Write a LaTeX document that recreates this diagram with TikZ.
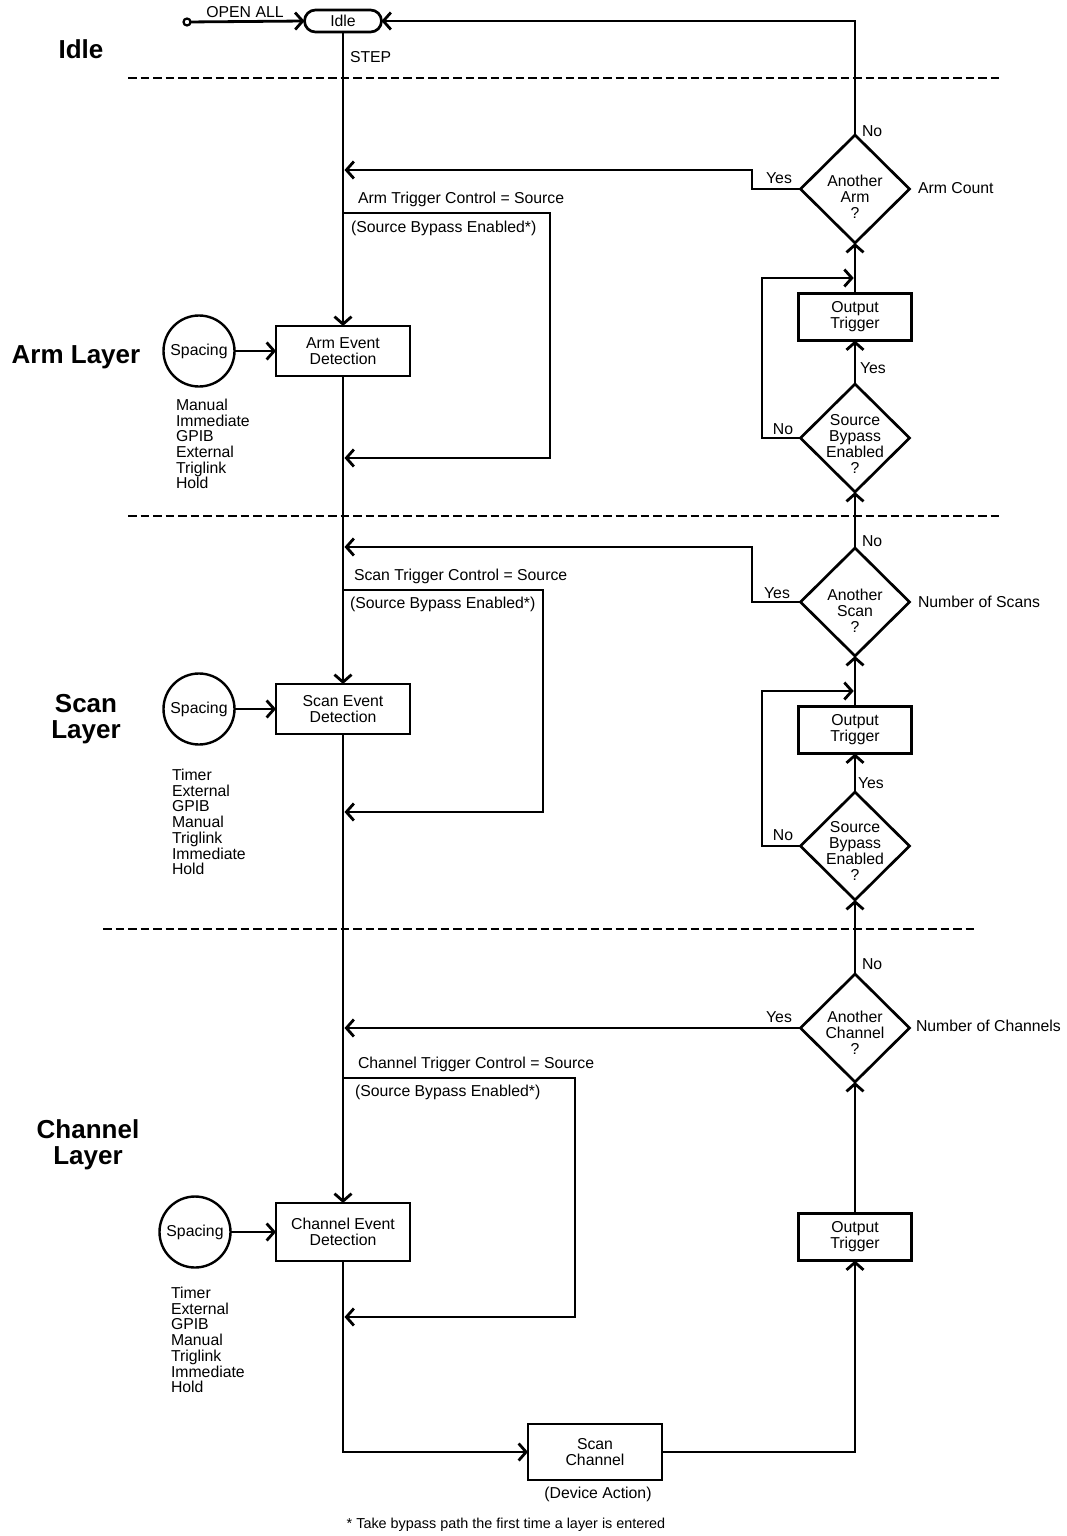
\documentclass[tikz,border=0pt]{standalone}
\usepackage{fontspec}
\setmainfont{Liberation Sans}
\usetikzlibrary{arrows.meta,shapes.geometric}
\begin{document}
\begin{tikzpicture}[x=1pt,y=-1pt,
  every node/.style={font=\fontsize{15.8pt}{16pt}\selectfont, inner sep=0pt, outer sep=0pt},
  box/.style={draw, line width=2.7pt, minimum width=134pt, minimum height=50pt, align=center},
  obox/.style={draw, line width=2.7pt, minimum width=113pt, minimum height=47pt, align=center},
  dia/.style={draw, diamond, line width=2.7pt, minimum width=109pt, minimum height=108pt, inner sep=0pt},
  diatext/.style={align=center},
  spc/.style={draw, circle, line width=2.4pt, minimum size=71pt},
  itemlist/.style={align=left, anchor=west, font=\fontsize{15.8pt}{15.7pt}\selectfont},
  conn/.style={line width=2.8pt, line join=miter},
  arr/.style={conn, -{Straight Barb[length=7.5pt,width=17pt]}},
  layer/.style={font=\fontsize{26pt}{26pt}\selectfont\bfseries, align=center},
  divider/.style={line width=1.7pt, dash pattern=on 8.5pt off 4pt},
  idlebox/.style={draw, line width=2.7pt, rounded corners=11pt, minimum width=77pt, minimum height=22pt},
  startdot/.style={draw, circle, line width=2.2pt, fill=white, minimum size=7pt}
]
\fill[white] (0,0) rectangle (1067,1536);
\useasboundingbox (0,0) rectangle (1067,1536);

% dividers
\coordinate (d1a) at (128,78);  \coordinate (d1b) at (1000,78);
\coordinate (d2a) at (128,516); \coordinate (d2b) at (1000,516);
\coordinate (d3a) at (103,929); \coordinate (d3b) at (975,929);
\draw[divider] (d1a) -- (d1b);
\draw[divider] (d2a) -- (d2b);
\draw[divider] (d3a) -- (d3b);

% layer labels
\node[layer] (lIdle) at (81,49) {Idle};
\node[layer] (lArm) at (76,357) {Arm Layer};
\node[layer] (lScan) at (86,719) {Scan\\Layer};
\node[layer] (lChan) at (88,1145) {Channel\\Layer};

% idle
\node[idlebox] (idle) at (343,21) {Idle};
\node[startdot] (start) at (187,22) {};
\node (openall) at (245,12) {OPEN ALL};
\node[anchor=west] (steplbl) at (350,57) {STEP};
\draw[arr] (start) -- (idle.west);

% ---------------- Arm layer
\node[box] (ae) at (343,351) {Arm Event\\Detection};
\node[spc] (sp1) at (199,351) {Spacing};
\node[itemlist] (l1) at (176,444) {Manual\\Immediate\\GPIB\\External\\Triglink\\Hold};
\node[dia] (aa) at (855,189) {};
\node[diatext] (aat) at (855,197) {Another\\Arm\\?};
\node[anchor=west] (noA) at (862,131) {No};
\node[anchor=west] (cnt1) at (918,188) {Arm Count};
\node (yesA) at (779,178) {Yes};
\node[obox] (ot1) at (855,317) {Output\\Trigger};
\node[dia] (sb1) at (855,438) {};
\node[diatext] (sb1t) at (855,444) {Source\\Bypass\\Enabled\\?};
\node[anchor=west] (yesB1) at (860,368) {Yes};
\node (noB1) at (783,429) {No};
\node[anchor=west] (tc1) at (358,199) {Arm Trigger Control = Source};
\node[anchor=west] (be1) at (351,228) {(Source Bypass Enabled*)};

\draw[arr] (idle.south) -- (ae.north);
\draw[arr] (sp1.east) -- (ae.west);
\draw[arr] (aa.north) |- (idle.east);
\coordinate (kA1) at (752,189); \coordinate (kA2) at (752,170); \coordinate (jA1) at (344.5,170);
\draw[arr] (aa.west) -- (kA1) -- (kA2) -- (jA1);
\coordinate (bA0) at (343,213); \coordinate (bA1) at (550,213); \coordinate (bA2) at (550,458); \coordinate (bA3) at (344.5,458);
\draw[arr] (bA0) -- (bA1) -- (bA2) -- (bA3);
\draw[arr] (ot1.north) -- (aa.south);
\draw[arr] (sb1.north) -- (ot1.south);
\coordinate (lA1) at (762,438); \coordinate (lA2) at (762,278); \coordinate (lA3) at (853.7,278);
\draw[arr] (sb1.west) -- (lA1) -- (lA2) -- (lA3);

% ---------------- Scan layer
\node[box] (se) at (343,709) {Scan Event\\Detection};
\node[spc] (sp2) at (199,709) {Spacing};
\node[itemlist] (l2) at (172,822) {Timer\\External\\GPIB\\Manual\\Triglink\\Immediate\\Hold};
\node[dia] (as) at (855,602) {};
\node[diatext] (ast) at (855,611) {Another\\Scan\\?};
\node[anchor=west] (noS) at (862,541) {No};
\node[anchor=west] (cnt2) at (918,602) {Number of Scans};
\node (yesS) at (777,593) {Yes};
\node[obox] (ot2) at (855,730) {Output\\Trigger};
\node[dia] (sb2) at (855,846) {};
\node[diatext] (sb2t) at (855,851) {Source\\Bypass\\Enabled\\?};
\node[anchor=west] (yesB2) at (858,783) {Yes};
\node (noB2) at (783,835) {No};
\node[anchor=west] (tc2) at (354,576) {Scan Trigger Control = Source};
\node[anchor=west] (be2) at (350,604) {(Source Bypass Enabled*)};

\draw[arr] (ae.south) -- (se.north);
\draw[arr] (sp2.east) -- (se.west);
\draw[arr] (as.north) -- (sb1.south);
\coordinate (kS1) at (752,602); \coordinate (kS2) at (752,547); \coordinate (jS1) at (344.5,547);
\draw[arr] (as.west) -- (kS1) -- (kS2) -- (jS1);
\coordinate (bS0) at (343,590); \coordinate (bS1) at (543,590); \coordinate (bS2) at (543,812); \coordinate (bS3) at (344.5,812);
\draw[arr] (bS0) -- (bS1) -- (bS2) -- (bS3);
\draw[arr] (ot2.north) -- (as.south);
\draw[arr] (sb2.north) -- (ot2.south);
\coordinate (lS1) at (762,846); \coordinate (lS2) at (762,691); \coordinate (lS3) at (853.7,691);
\draw[arr] (sb2.west) -- (lS1) -- (lS2) -- (lS3);

% ---------------- Channel layer
\node[box, minimum height=58pt] (ce) at (343,1232) {Channel Event\\Detection};
\node[spc] (sp3) at (195,1232) {Spacing};
\node[itemlist] (l3) at (171,1340) {Timer\\External\\GPIB\\Manual\\Triglink\\Immediate\\Hold};
\node[dia] (ac) at (855,1028) {};
\node[diatext] (act) at (855,1033) {Another\\Channel\\?};
\node[anchor=west] (noC) at (862,964) {No};
\node[anchor=west] (cnt3) at (916,1026) {Number of Channels};
\node (yesC) at (779,1017) {Yes};
\node[obox] (ot3) at (855,1237) {Output\\Trigger};
\node[box, minimum height=56pt] (sc) at (595,1452) {Scan\\Channel};
\node (devact) at (598,1494) {(Device Action)};
\node[anchor=west] (tc3) at (358,1064) {Channel Trigger Control = Source};
\node[anchor=west] (be3) at (355,1092) {(Source Bypass Enabled*)};
\node[font=\fontsize{14.4pt}{16pt}\selectfont] (foot) at (506,1525) {* Take bypass path the first time a layer is entered};

\draw[arr] (se.south) -- (ce.north);
\draw[arr] (sp3.east) -- (ce.west);
\draw[arr] (ac.north) -- (sb2.south);
\coordinate (jC1) at (344.5,1028);
\draw[arr] (ac.west) -- (jC1);
\coordinate (bC0) at (343,1078); \coordinate (bC1) at (575,1078); \coordinate (bC2) at (575,1317); \coordinate (bC3) at (344.5,1317);
\draw[arr] (bC0) -- (bC1) -- (bC2) -- (bC3);
\draw[arr] (ot3.north) -- (ac.south);
\coordinate (kC1) at (343,1452); \coordinate (kC2) at (855,1452);
\draw[arr] (ce.south) -- (kC1) -- (sc.west);
\draw[arr] (sc.east) -- (kC2) -- (ot3.south);
\end{tikzpicture}
\end{document}
